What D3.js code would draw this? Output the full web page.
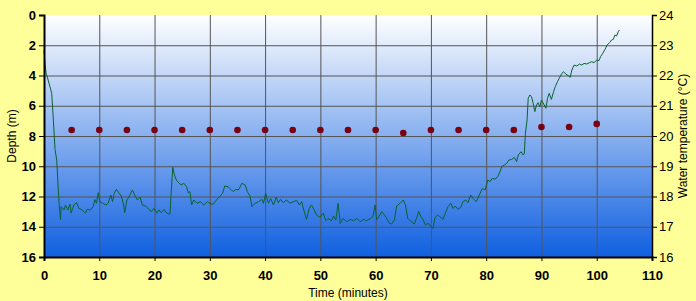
<!DOCTYPE html>
<html>
<head>
<meta charset="utf-8">
<script src="https://cdn.jsdelivr.net/npm/d3@7"></script>
<style>
  html, body { margin: 0; padding: 0; background: #ffff99; overflow: hidden; }
  svg { display: block; }
  text { font-family: "Liberation Sans", Arial, sans-serif; }
</style>
</head>
<body>
<div id="plot"></div>
<script>
// Depth trace (time in minutes, depth in m)
const depthTime = [
  0, 0.2, 0.4, 0.6, 0.9, 1.2, 1.4, 1.7, 2.0, 2.3, 2.7, 3.0, 3.1, 3.6, 3.9, 4.3, 4.7, 4.9, 5.4, 5.9,
  6.3, 6.9, 7.5, 7.8, 8.4, 8.9, 9.2, 9.5, 9.8, 10.1, 10.6, 11.2, 11.6, 12.1, 12.4, 12.7, 13.1, 13.6, 14.0, 14.4,
  14.6, 15.0, 15.4, 16.0, 16.4, 16.9, 17.4, 17.8, 18.4, 19.0, 19.4, 19.9, 20.4, 20.8, 21.2, 21.7, 22.2, 22.8, 23.0, 23.3,
  23.6, 24.0, 24.4, 24.8, 25.3, 25.8, 26.1, 26.4, 26.7, 27.1, 27.7, 28.3, 28.9, 29.6, 30.2, 30.6, 31.2, 31.8, 32.3, 32.7,
  33.3, 33.8, 34.2, 34.7, 35.2, 35.8, 36.4, 36.8, 37.3, 37.6, 38.2, 38.8, 39.4, 39.7, 40.1, 40.6, 41.0, 41.5, 42.0, 42.4,
  42.8, 43.3, 43.9, 44.5, 45.1, 45.7, 46.2, 46.6, 47.0, 47.5, 48.0, 48.4, 48.9, 49.3, 49.9, 50.5, 51.0, 51.4, 52.0, 52.4,
  52.8, 53.2, 53.6, 54.1, 54.8, 55.4, 56.0, 56.6, 57.2, 57.8, 58.4, 59.1, 59.5, 59.9, 60.2, 60.6, 61.1, 61.6, 62.0, 62.4,
  62.9, 63.4, 63.8, 64.4, 65.0, 65.4, 65.8, 66.4, 67.0, 67.4, 67.8, 68.2, 68.6, 69.0, 69.5, 69.9, 70.4, 70.7, 71.2, 71.6,
  72.2, 72.6, 73.1, 73.6, 74.0, 74.4, 74.9, 75.4, 75.8, 76.3, 76.7, 77.2, 77.6, 78.2, 78.9, 79.3, 79.8, 80.3, 80.7, 81.1,
  81.6, 82.1, 82.5, 82.8, 83.3, 83.7, 84.1, 84.6, 85.1, 85.5, 85.8, 86.3, 86.7, 86.9, 87.1, 87.4, 87.6, 87.9, 88.2, 88.5,
  88.8, 89.1, 89.4, 89.7, 90.0, 90.5, 90.8, 91.1, 91.4, 91.8, 92.2, 92.5, 92.9, 93.2, 93.7, 94.0, 94.4, 94.9, 95.2, 95.5,
  95.9, 96.4, 96.9, 97.3, 97.7, 98.2, 98.7, 99.1, 99.5, 100.0, 100.4, 100.7, 101.1, 101.5, 101.9, 102.3, 102.7, 103.0, 103.3, 103.6,
  103.9, 104.1
];
const depthValue = [
  2.3, 3.3, 3.9, 4.1, 4.5, 4.9, 5.2, 7.0, 8.9, 9.6, 12.3, 13.55, 12.67, 12.89, 12.56, 12.89, 12.5, 13.1, 12.56, 12.41,
  12.78, 12.89, 13.1, 12.85, 12.89, 12.67, 12.2, 12.45, 11.75, 12.34, 12.45, 12.56, 12.45, 11.9, 12.34, 11.79, 11.53, 11.79, 11.97, 12.56,
  13.07, 12.23, 12.0, 11.57, 11.9, 12.23, 12.05, 12.56, 12.63, 12.85, 13.0, 12.78, 13.1, 12.89, 13.07, 12.85, 13.1, 13.17, 11.79, 10.07,
  10.58, 10.95, 11.09, 11.24, 11.13, 11.35, 11.75, 11.68, 12.56, 12.23, 12.45, 12.34, 12.56, 12.34, 12.5, 12.5, 12.23, 12.0, 11.79, 11.31,
  11.35, 11.53, 11.68, 11.53, 11.57, 11.13, 11.24, 11.68, 12.0, 12.67, 12.45, 12.34, 12.19, 12.45, 11.79, 12.45, 12.12, 12.56, 12.05, 12.41,
  12.19, 12.41, 12.23, 12.45, 12.34, 12.27, 12.56, 12.34, 12.89, 13.51, 12.78, 12.56, 12.89, 13.23, 13.38, 13.1, 13.6, 13.45, 13.6, 13.29,
  13.56, 12.45, 13.78, 13.45, 13.67, 13.51, 13.6, 13.45, 13.67, 13.51, 13.6, 13.45, 13.34, 12.56, 13.55, 13.33, 13.0, 13.22, 13.44, 13.73,
  13.82, 13.55, 12.63, 12.45, 12.23, 12.56, 13.44, 13.66, 13.82, 13.44, 13.0, 13.33, 13.55, 13.88, 13.77, 13.95, 14.11, 13.44, 13.22, 13.33,
  13.51, 13.11, 12.67, 12.45, 12.78, 12.63, 12.85, 12.72, 12.34, 12.23, 12.41, 11.9, 12.12, 12.34, 11.79, 11.46, 11.57, 10.91, 11.02, 10.8,
  10.86, 10.69, 10.36, 10.03, 9.92, 9.81, 9.59, 9.55, 9.42, 9.7, 9.26, 9.04, 9.26, 9.15, 7.82, 6.94, 5.51, 5.29, 5.4, 5.84,
  6.39, 5.95, 5.8, 6.06, 5.62, 5.95, 6.17, 5.51, 5.18, 5.58, 5.07, 4.74, 4.41, 4.19, 3.86, 3.75, 3.9, 4.03, 4.12, 3.64,
  3.31, 3.37, 3.24, 3.31, 3.2, 3.24, 3.15, 3.09, 3.15, 2.98, 3.02, 2.75, 2.53, 2.27, 1.98, 1.83, 1.65, 1.61, 1.32, 1.39,
  1.1, 0.99
];

// Water temperature samples (every 5 minutes)
const tempTime = [5, 10, 15, 20, 25, 30, 35, 40, 45, 50, 55, 60, 65, 70, 75, 80, 85, 90, 95, 100];
const tempValue = [20.2, 20.2, 20.2, 20.2, 20.2, 20.2, 20.2, 20.2, 20.2, 20.2, 20.2, 20.2, 20.1, 20.2, 20.2, 20.2, 20.2, 20.3, 20.3, 20.4];

// Tick labels
const timeTicks = [0, 10, 20, 30, 40, 50, 60, 70, 80, 90, 100, 110];
const depthTicks = [0, 2, 4, 6, 8, 10, 12, 14, 16];
const tempTicks = [16, 17, 18, 19, 20, 21, 22, 23, 24];

const w = 696;
const h = 301;
const margin = {top: 15, right: 44, bottom: 44, left: 44};
const innerWidth = w - margin.left - margin.right;
const innerHeight = h - margin.top - margin.bottom;

const xScale = d3.scaleLinear().domain([0, 110]).range([0, innerWidth]);
const yScale = d3.scaleLinear().domain([0, 16]).range([0, innerHeight]);
const tScale = d3.scaleLinear().domain([16, 24]).range([innerHeight, 0]);

const svg = d3.select("div#plot")
  .append("svg")
  .attr("width", w)
  .attr("height", h);

svg.append("rect")
  .attr("width", w)
  .attr("height", h)
  .attr("fill", "#ffff99");

// gradient for plot area
const grad = svg.append("defs").append("linearGradient")
  .attr("id", "bg")
  .attr("x1", 0).attr("y1", 0).attr("x2", 0).attr("y2", 1);
grad.append("stop").attr("offset", "0%").attr("stop-color", "#ffffff");
grad.append("stop").attr("offset", "100%").attr("stop-color", "#1060e0");

const g = svg.append("g")
  .attr("transform", `translate(${margin.left}, ${margin.top})`);

g.append("rect")
  .attr("width", innerWidth)
  .attr("height", innerHeight)
  .attr("fill", "url(#bg)");

// gridlines
g.append("g")
  .attr("class", "yGrid")
  .call(d3.axisLeft(yScale).tickValues(depthTicks.slice(1, -1)).tickSize(-innerWidth).tickFormat(""))
  .call(s => s.select(".domain").remove())
  .selectAll("line")
  .attr("stroke", "#555555")
  .attr("stroke-width", 1);

g.append("g")
  .attr("class", "xGrid")
  .attr("transform", `translate(0, ${innerHeight})`)
  .call(d3.axisBottom(xScale).tickValues(timeTicks.slice(1, -1)).tickSize(-innerHeight).tickFormat(""))
  .call(s => s.select(".domain").remove())
  .selectAll("line")
  .attr("stroke", "#555555")
  .attr("stroke-width", 1);

// depth line
const line = d3.line()
  .x((d, i) => xScale(depthTime[i]))
  .y(d => yScale(d));

g.append("path")
  .datum(depthValue)
  .attr("fill", "none")
  .attr("stroke", "#0b6230")
  .attr("stroke-width", 1)
  .attr("d", line);

// temperature dots
g.selectAll(".dot")
  .data(tempValue)
  .join("circle")
  .attr("class", "dot")
  .attr("cx", (d, i) => xScale(tempTime[i]))
  .attr("cy", d => tScale(d))
  .attr("r", 3.3)
  .attr("fill", "#7a0010");

// axes
const leftAxis = g.append("g")
  .call(d3.axisLeft(yScale).tickValues(depthTicks).tickSize(5).tickPadding(3).tickFormat(d3.format("d")));
leftAxis.select(".domain").attr("stroke-width", 2);
leftAxis.selectAll("text")
  .style("font-size", "13px")
  .style("font-weight", "bold")
  .style("fill", "black");

const bottomAxis = g.append("g")
  .attr("transform", `translate(0, ${innerHeight})`)
  .call(d3.axisBottom(xScale).tickValues(timeTicks).tickSize(4).tickPadding(10).tickFormat(d3.format("d")));
bottomAxis.select(".domain").attr("stroke-width", 2);
bottomAxis.selectAll("text")
  .style("font-size", "13px")
  .style("font-weight", "bold")
  .style("fill", "black");

const rightAxis = g.append("g")
  .attr("transform", `translate(${innerWidth}, 0)`)
  .call(d3.axisRight(tScale).tickValues(tempTicks).tickSize(5).tickPadding(2).tickFormat(d3.format("d")));
rightAxis.select(".domain").attr("stroke-width", 1.5);
rightAxis.selectAll("text")
  .style("font-size", "13px")
  .style("fill", "black");

// axis titles
svg.append("text")
  .attr("transform", "rotate(-90)")
  .attr("x", -(margin.top + innerHeight / 2))
  .attr("y", 16)
  .attr("text-anchor", "middle")
  .style("font-size", "12px")
  .text("Depth (m)");

svg.append("text")
  .attr("x", margin.left + innerWidth / 2)
  .attr("y", h - 4)
  .attr("text-anchor", "middle")
  .style("font-size", "12px")
  .text("Time (minutes)");

svg.append("text")
  .attr("transform", "rotate(-90)")
  .attr("x", -(margin.top + innerHeight / 2))
  .attr("y", w - 9)
  .attr("text-anchor", "middle")
  .style("font-size", "12px")
  .text("Water temperature (°C)");
</script>
</body>
</html>
